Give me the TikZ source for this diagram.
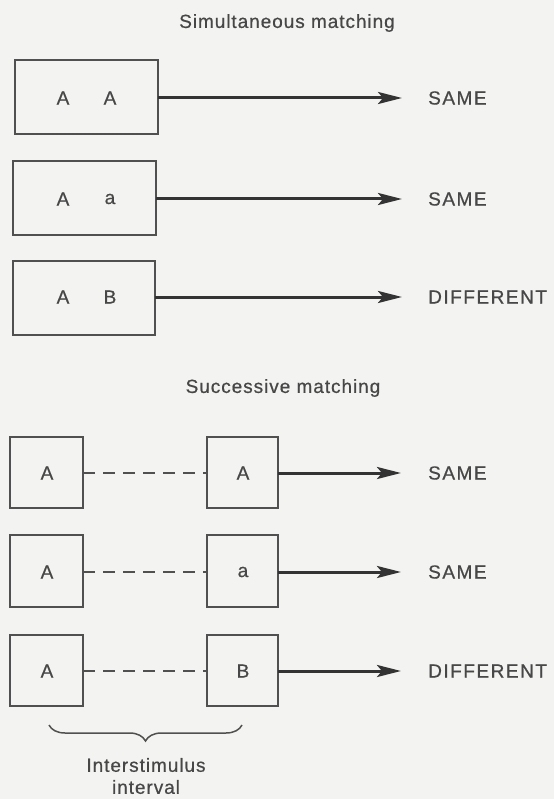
\documentclass[tikz,border=0pt]{standalone}
\usepackage{fontspec}
\setmainfont{Liberation Sans}
\newfontfamily\labelfont[LetterSpace=8,FakeBold=0.6]{Liberation Sans}
\newfontfamily\titlefont[LetterSpace=5,FakeBold=0.6]{Liberation Sans}
\newfontfamily\glyphfont[FakeBold=0.6]{Liberation Sans}
\usetikzlibrary{arrows.meta,decorations.pathreplacing}
\definecolor{paper}{HTML}{F3F3F1}
\definecolor{ink}{HTML}{333333}
\definecolor{boxline}{HTML}{505050}
\definecolor{txt}{HTML}{474747}
\tikzset{
  stim/.style={draw=boxline, line width=1.8pt},
  glyph/.style={text=txt, font=\glyphfont\fontsize{19}{22}\selectfont, inner sep=0pt},
  heading/.style={text=txt, font=\titlefont\fontsize{19}{22}\selectfont, inner sep=0pt},
  verdict/.style={text=txt, font=\labelfont\fontsize{19}{22}\selectfont, anchor=west, inner sep=0pt},
  respond/.style={draw=ink, line width=3pt, -{Stealth[length=24pt,width=12pt,inset=5pt]}},
  delay/.style={draw=boxline, line width=1.6pt, dash pattern=on 12pt off 8pt},
}
\begin{document}
\begin{tikzpicture}[x=1pt,y=-1pt]
\fill[paper] (0,0) rectangle (554,799);
\useasboundingbox (0,0) rectangle (554,799);

% simultaneous presentation
\node[heading] (simtitle) at (287,23) {Simultaneous matching};

\draw[stim] (15,60) rectangle (158,134);
\coordinate (s1out) at (158,98);
\node[glyph] (s1a) at (63,98) {A};
\node[glyph] (s1b) at (110,98) {A};
\coordinate (s1end) at (402,98);
\node[verdict] (s1r) at (428,98) {SAME};
\draw[respond] (s1out) -- (s1end);

\draw[stim] (13,161) rectangle (156,235);
\coordinate (s2out) at (156,199);
\node[glyph] (s2a) at (63,199) {A};
\node[glyph] (s2b) at (110,199) {a};
\coordinate (s2end) at (402,199);
\node[verdict] (s2r) at (428,199) {SAME};
\draw[respond] (s2out) -- (s2end);

\draw[stim] (13,261) rectangle (155,335);
\coordinate (s3out) at (155,297);
\node[glyph] (s3a) at (63,297) {A};
\node[glyph] (s3b) at (110,297) {B};
\coordinate (s3end) at (402,297);
\node[verdict] (s3r) at (428,297) {DIFFERENT};
\draw[respond] (s3out) -- (s3end);

% successive presentation
\node[heading] (suctitle) at (283,388) {Successive matching};

\foreach \row/\top/\bot/\mid/\second/\answer in {
    1/437/508/473/A/SAME,
    2/535/607/572/a/SAME,
    3/635/706/671/B/DIFFERENT}{
  \draw[stim] (10,\top) rectangle (83,\bot);
  \draw[stim] (207,\top) rectangle (278,\bot);
  \coordinate (f\row) at (83,\mid);
  \coordinate (g\row) at (207,\mid);
  \coordinate (h\row) at (278,\mid);
  \coordinate (e\row) at (401,\mid);
  \node[glyph] (p\row) at (47,\mid) {A};
  \node[glyph] (q\row) at (243,\mid) {\second};
  \node[verdict] (r\row) at (428,\mid) {\answer};
  \draw[delay] (f\row) -- (g\row);
  \draw[respond] (h\row) -- (e\row);
}

% interstimulus interval
\coordinate (bl) at (49,725);
\coordinate (br) at (242,725);
\draw[boxline, line width=1.5pt, decorate,
      decoration={brace, amplitude=16pt, aspect=0.5}] (br) -- (bl);
\node[text=txt, font=\titlefont\fontsize{19}{22}\selectfont, align=center,
      inner sep=0pt] (isi) at (146,776) {Interstimulus\\interval};
\end{tikzpicture}
\end{document}
